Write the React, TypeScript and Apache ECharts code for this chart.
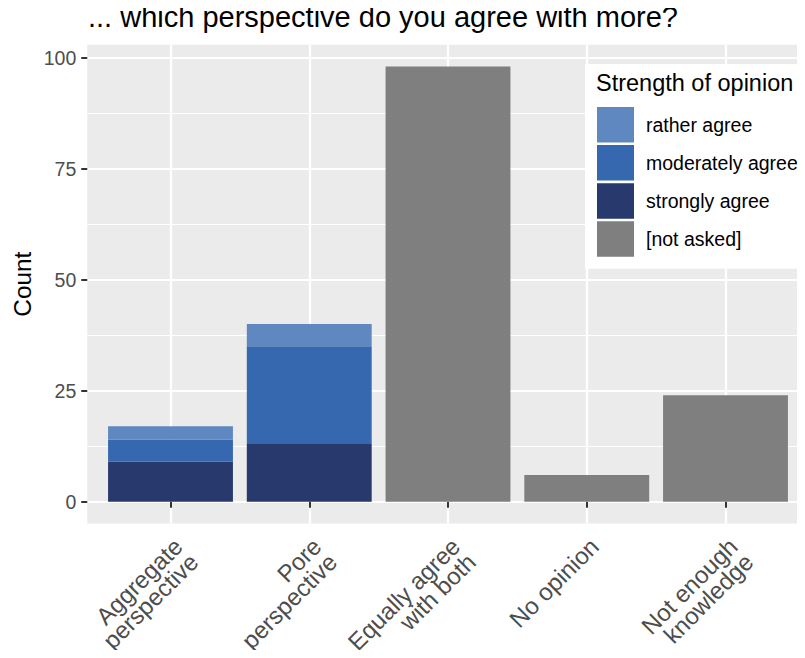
import React, { useEffect, useRef } from "react";
import * as echarts from "echarts";

const categories = [
  "Aggregate\nperspective",
  "Pore\nperspective",
  "Equally agree\nwith both",
  "No opinion",
  "Not enough\nknowledge",
];
const stronglyAgree = [9, 13, null, null, null];
const moderatelyAgree = [5, 22, null, null, null];
const ratherAgree = [3, 5, null, null, null];
const notAsked = [null, null, 98, 6, 24];
const yTicks = [0, 25, 50, 75, 100];

const FONT = "'Liberation Sans', Arial, Helvetica, sans-serif";

export default function App() {
  const ref = useRef<HTMLDivElement>(null);
  useEffect(() => {
    if (!ref.current) return;
    const chart = echarts.init(ref.current, null, { renderer: "svg" });
    const unit = 138.75;
    const c0 = 170.5;
    const panelLeft = c0 - 0.6 * unit;
    const panelWidth = 5.2 * unit;
    const pxPerVal = 4.44;
    const y0 = 501.7;
    const yMax = yTicks[yTicks.length - 1];
    const dataMax = 98;
    const expand = dataMax * 0.05;
    const panelTop = y0 - (dataMax + expand) * pxPerVal;
    const panelBottom = y0 + expand * pxPerVal;
    const colors = {
      rather: "#5F88C0",
      moderate: "#3568AE",
      strong: "#283A6D",
      na: "#7F7F7F",
    };
    const option: any = {
      animation: false,
      textStyle: { fontFamily: FONT },
      title: [
        {
          text: "... which perspective do you agree with more?",
          left: 88,
          top: 2,
          padding: 0,
          textStyle: { fontSize: 29, fontWeight: "normal", color: "#000", fontFamily: FONT },
        },
        {
          text: "Strength of opinion",
          left: 596,
          top: 71,
          padding: 0,
          z: 10,
          textStyle: { fontSize: 23.5, fontWeight: "normal", color: "#000", fontFamily: FONT },
        },
      ],
      legend: {
        data: ["rather agree", "moderately agree", "strongly agree", "[not asked]"],
        orient: "vertical",
        left: 585,
        top: 64,
        icon: "rect",
        itemWidth: 37,
        itemHeight: 35.5,
        itemGap: 2.6,
        padding: [43, 60, 12, 12],
        backgroundColor: "#ffffff",
        textStyle: { fontSize: 19.5, color: "#000", fontFamily: FONT, padding: [0, 0, 0, 7] },
        z: 8,
      },
      grid: [
        {
          left: panelLeft,
          top: panelTop,
          width: panelWidth,
          height: panelBottom - panelTop,
          show: true,
          backgroundColor: "#EBEBEB",
          borderWidth: 0,
          outerBoundsMode: "none",
          containLabel: false,
        },
        {
          left: panelLeft,
          top: y0 - yMax * pxPerVal,
          width: panelWidth,
          height: yMax * pxPerVal,
          outerBoundsMode: "none",
          containLabel: false,
        },
        {
          left: c0 - 0.5 * unit,
          top: panelTop,
          width: 5 * unit,
          height: panelBottom - panelTop,
          outerBoundsMode: "none",
          containLabel: false,
        },
      ],
      xAxis: [
        { type: "value", gridIndex: 0, show: false },
        { type: "value", gridIndex: 1, show: false },
        {
          type: "category",
          gridIndex: 2,
          data: categories,
          axisLine: { show: false },
          axisTick: { show: true, alignWithLabel: true, length: 6, lineStyle: { color: "#333333", width: 2 } },
          splitLine: { show: true, alignWithLabel: true, lineStyle: { color: "#ffffff", width: 2.2 } },
          axisLabel: {
            rotate: 45,
            interval: 0,
            margin: 11,
            align: "right",
            verticalAlign: "top",
            fontSize: 24,
            lineHeight: 22,
            color: "#4D4D4D",
            fontFamily: FONT,
          },
        },
      ],
      yAxis: [
        { type: "value", gridIndex: 0, show: false },
        {
          type: "value",
          gridIndex: 1,
          min: 0,
          max: yMax,
          interval: 25,
          axisLine: { show: false },
          axisTick: { show: true, length: 6, lineStyle: { color: "#333333", width: 2 } },
          axisLabel: { fontSize: 19.5, color: "#4D4D4D", margin: 11, fontFamily: FONT },
          splitLine: { show: true, lineStyle: { color: "#ffffff", width: 2.2 } },
          minorTick: { show: false, splitNumber: 2 },
          minorSplitLine: { show: true, lineStyle: { color: "#ffffff", width: 1.1 } },
        },
        {
          type: "value",
          gridIndex: 2,
          min: -expand,
          max: dataMax + expand,
          show: false,
        },
      ],
      graphic: [
        {
          type: "text",
          x: 22,
          y: (panelTop + panelBottom) / 2,
          rotation: Math.PI / 2,
          style: {
            text: "Count",
            fontSize: 24.4,
            fontFamily: FONT,
            fill: "#000",
            align: "center",
            verticalAlign: "middle",
          },
        },
      ],
      series: [
        { name: "strongly agree", type: "bar", stack: "s", xAxisIndex: 2, yAxisIndex: 2, data: stronglyAgree, barWidth: "90%", itemStyle: { color: colors.strong } },
        { name: "moderately agree", type: "bar", stack: "s", xAxisIndex: 2, yAxisIndex: 2, data: moderatelyAgree, barWidth: "90%", itemStyle: { color: colors.moderate } },
        { name: "rather agree", type: "bar", stack: "s", xAxisIndex: 2, yAxisIndex: 2, data: ratherAgree, barWidth: "90%", itemStyle: { color: colors.rather } },
        { name: "[not asked]", type: "bar", stack: "s", xAxisIndex: 2, yAxisIndex: 2, data: notAsked, barWidth: "90%", itemStyle: { color: colors.na } },
      ],
    };
    chart.setOption(option);
    return () => chart.dispose();
  }, []);
  return <div ref={ref} style={{ width: 805, height: 658, margin: -8 }} />;
}
